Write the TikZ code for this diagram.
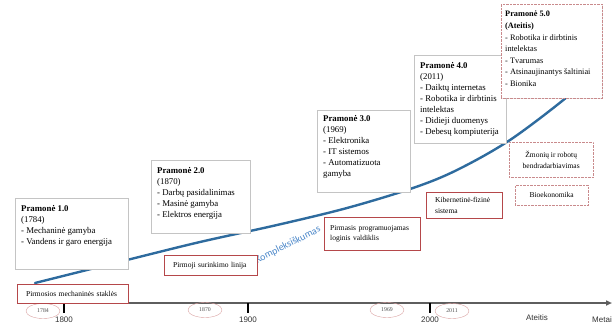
\documentclass[tikz,border=0pt]{standalone}
\usepackage{fontspec}
\setmainfont{Liberation Serif}
\setsansfont{Liberation Sans}
\newfontfamily\calibri{Carlito}
\usetikzlibrary{arrows.meta,shapes.geometric,shadows}
\definecolor{BoxGray}{HTML}{C4C4C4}
\definecolor{EventRed}{HTML}{B5474A}
\definecolor{DotRed}{HTML}{C98A8C}
\definecolor{OvalPink}{HTML}{D9A0A0}
\definecolor{CurveBlue}{HTML}{2E6B9E}
\definecolor{WordBlue}{HTML}{4A86C8}
\definecolor{AxisGray}{HTML}{5E5E5E}
\newcommand{\erabody}[3]{\parbox[t][#2][t]{#1}{\raggedright #3}}

\begin{document}
\begin{tikzpicture}[x=1pt,y=-1pt,>=Stealth,
  erabox/.style={draw=BoxGray,fill=white,anchor=north west,inner xsep=6pt,inner ysep=7pt,
    font=\fontsize{8.8}{11}\selectfont,
    drop shadow={shadow xshift=1.2pt,shadow yshift=-1.2pt,opacity=0.18}},
  eventbox/.style={draw=EventRed,fill=white,anchor=north west,inner xsep=9pt,inner ysep=0pt,
    align=left,font=\fontsize{7.5}{10.5}\selectfont,
    drop shadow={shadow xshift=1pt,shadow yshift=-1pt,opacity=0.15}},
  futurebox/.style={draw=DotRed,densely dotted,fill=white,anchor=north west,inner sep=0pt,
    align=center,font=\fontsize{7.5}{10.5}\selectfont},
  yearoval/.style={ellipse,draw=OvalPink,minimum width=34pt,minimum height=15pt,inner sep=0pt,
    font=\fontsize{5.8}{6}\selectfont,text=black!70},
  axislabel/.style={font=\sffamily\fontsize{8}{9}\selectfont,text=black!80}]
  \useasboundingbox (0,0) rectangle (614,325);

  % complexity curve
  \draw[CurveBlue,line width=2.4pt,line cap=round] plot[smooth,tension=0.55] coordinates
    {(35,283) (127,260) (200,242) (277,225) (347,208) (413,188) (457,170) (510,140) (567,97) (580,82)};
  \node[font=\calibri\fontsize{10}{12}\selectfont,text=WordBlue,rotate=27] (complexity) at (288,245) {Kompleksiškumas};

  % time axis
  \draw[AxisGray,line width=1.6pt,-{Triangle[length=6pt,width=5pt]}] (20,303) -- (612,303);
  \foreach \x/\yr in {64/1800,248/1900,430/2000}{
    \draw[black,line width=2pt] (\x,303) -- (\x,313);
    \node[axislabel,anchor=north,inner sep=0pt] (tick\yr) at (\x,317) {\yr};
  }
  \node[axislabel] (future) at (537,318) {Ateitis};
  \node[axislabel] (years) at (602,320) {Metai};

  % year ovals
  \node[yearoval] (y1784) at (43,311) {1784};
  \node[yearoval] (y1870) at (205,310) {1870};
  \node[yearoval] (y1969) at (387,310) {1969};
  \node[yearoval] (y2011) at (452,311) {2011};

  % industry stages
  \node[erabox] (ind1) at (15,198) {\erabody{101pt}{57pt}{\textbf{Pramonė 1.0}\\(1784)\\- Mechaninė gamyba\\- Vandens ir garo energija}};
  \node[erabox] (ind2) at (151,160) {\erabody{87pt}{59pt}{\textbf{Pramonė 2.0}\\(1870)\\- Darbų pasidalinimas\\- Masinė gamyba\\- Elektros energija}};
  \node[erabox,inner ysep=5pt] (ind3) at (317,110) {\erabody{81pt}{72pt}{\textbf{Pramonė 3.0}\\(1969)\\- Elektronika\\- IT sistemos\\- Automatizuota\\gamyba}};
  \node[erabox] (ind4) at (414,55) {\erabody{80pt}{74pt}{\textbf{Pramonė 4.0}\\(2011)\\- Daiktų internetas\\- Robotika ir dirbtinis\\intelektas\\- Didieji duomenys\\- Debesų kompiuterija}};
  \node[erabox,draw=DotRed,densely dotted,drop shadow={opacity=0},inner xsep=4pt,font=\fontsize{8.3}{11.6}\selectfont] (ind5) at (501,4) {\erabody{93pt}{80pt}{\textbf{Pramonė 5.0}\\\textbf{(Ateitis)}\\- Robotika ir dirbtinis\\intelektas\\- Tvarumas\\- Atsinaujinantys šaltiniai\\- Bionika}};

  % milestones
  \node[eventbox,minimum width=111pt,minimum height=19pt,text width=93pt] (ev1) at (17,284) {Pirmosios mechaninės staklės};
  \node[eventbox,minimum width=93pt,minimum height=20pt,text width=75pt] (ev2) at (164,255) {Pirmoji surinkimo linija};
  \node[eventbox,minimum width=96pt,minimum height=33pt,inner xsep=6pt,text width=84pt] (ev3) at (324,217) {Pirmasis programuojamas\\loginis valdiklis};
  \node[eventbox,minimum width=76pt,minimum height=26pt,text width=58pt] (ev4) at (426,192) {Kibernetinė-fizinė\\sistema};
  \node[futurebox,minimum width=84pt,minimum height=35pt] (ev5) at (509,142) {Žmonių ir robotų\\bendradarbiavimas};
  \node[futurebox,minimum width=73pt,minimum height=20pt] (ev6) at (515,185) {Bioekonomika};
\end{tikzpicture}
\end{document}
